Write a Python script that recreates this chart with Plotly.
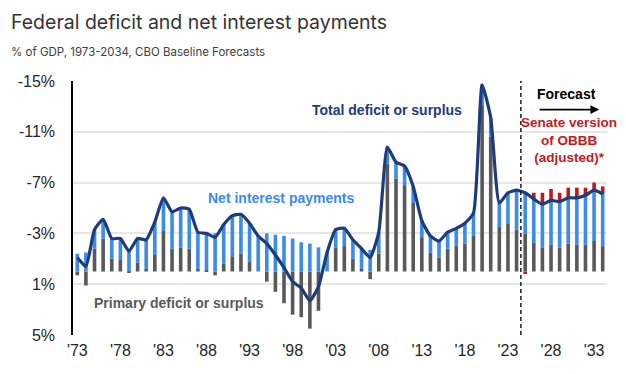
import plotly.graph_objects as go

years = list(range(1973, 2035))

# Total deficit (-) or surplus (+), % of GDP
total_balance = [-1.1, -0.4, -3.3, -4.1, -2.6, -2.6, -1.6, -2.6, -2.5, -3.9,
                 -5.8, -4.7, -5.0, -4.9, -3.1, -3.0, -2.7, -3.7, -4.4, -4.5,
                 -3.8, -2.8, -2.2, -1.3, -0.3, 0.8, 1.3, 2.3, 1.2, -1.5,
                 -3.3, -3.4, -2.5, -1.8, -1.1, -3.1, -9.8, -8.6, -8.3, -6.7,
                 -4.0, -2.8, -2.4, -3.1, -3.4, -3.8, -4.6, -14.7, -12.1, -5.4,
                 -6.2, -6.4, -6.2, -5.7, -5.3, -5.6, -5.5, -5.8, -5.8, -6.0,
                 -6.4, -6.1]

# Primary deficit (-) or surplus (+), % of GDP
primary_balance = [0.3, 1.1, -1.8, -2.6, -1.0, -0.9, 0.1, -0.7, -0.2, -1.3,
                   -3.2, -1.8, -1.9, -1.8, -0.2, -0.1, 0.3, -0.6, -1.2, -1.4,
                   -0.8, 0.0, 0.8, 1.6, 2.5, 3.4, 3.6, 4.5, 3.1, 0.0,
                   -1.9, -2.0, -1.0, -0.2, 0.6, -1.4, -8.5, -7.3, -6.8, -5.4,
                   -2.7, -1.5, -1.1, -1.8, -2.0, -2.2, -2.8, -13.1, -10.6, -3.5,
                   -3.8, -3.3, -3.0, -2.3, -1.9, -2.1, -1.9, -2.2, -2.1, -2.1,
                   -2.4, -2.0]

# Net interest payments (shown as a deficit contribution), % of GDP
net_interest = [-1.4, -1.5, -1.5, -1.5, -1.6, -1.7, -1.7, -1.9, -2.3, -2.6,
                -2.6, -2.9, -3.1, -3.1, -2.9, -2.9, -3.0, -3.1, -3.2, -3.1,
                -3.0, -2.8, -3.0, -2.9, -2.8, -2.6, -2.3, -2.2, -1.9, -1.5,
                -1.4, -1.4, -1.5, -1.6, -1.7, -1.7, -1.3, -1.3, -1.5, -1.3,
                -1.3, -1.3, -1.3, -1.3, -1.4, -1.6, -1.8, -1.6, -1.5, -1.9,
                -2.4, -3.1, -3.2, -3.4, -3.4, -3.5, -3.6, -3.6, -3.7, -3.9,
                -4.0, -4.1]

# Senate version of OBBB (adjusted) additional deficit, forecast years
obbb_years = list(range(2025, 2035))
obbb_extra = [0.2, -0.5, -0.9, -0.9, -0.7, -0.8, -0.8, -0.6, -0.6, -0.6]

y_tickvals = [-15, -11, -7, -3, 1, 5]
y_ticktext = ["-15%", "-11%", "-7%", "-3%", "1%", "5%"]
x_tickvals = list(range(1973, 2034, 5))
x_ticktext = ["'" + str(y)[2:] for y in x_tickvals]
x_minor_ticks = [y + 0.5 for y in range(1977, 2034, 5)]

GRAY = "#595959"
BLUE = "#3a8ce6"
NAVY = "#1c3c7c"
RED = "#bf1b1f"

fig = go.Figure()
fig.add_trace(go.Bar(x=years, y=primary_balance, marker_color=GRAY,
                     marker_line_width=0, name="Primary deficit or surplus"))
fig.add_trace(go.Bar(x=years, y=net_interest, marker_color=BLUE,
                     marker_line_width=0, name="Net interest payments"))
fig.add_trace(go.Bar(x=obbb_years, y=obbb_extra, marker_color=RED,
                     marker_line_width=0, name="Senate version of OBBB"))
fig.add_trace(go.Scatter(x=years, y=total_balance, mode="lines",
                         line=dict(color=NAVY, width=3.2, shape="spline", smoothing=0.5),
                         name="Total deficit or surplus"))

fig.add_vline(x=2024.5, line=dict(color="#1a1a1a", width=1.5, dash="4px,3px"))

axis_font = dict(family="Liberation Sans, Arial, sans-serif", size=16, color="#262626")

# page body has an 8px margin: the figure sits at (8, 8) in the window
fig.update_layout(
    width=618, height=366,
    margin=dict(l=65, r=19, t=73, b=39),
    paper_bgcolor="white", plot_bgcolor="white",
    barmode="relative", bargap=0.58,
    showlegend=False,
    xaxis=dict(range=[1972.5, 2034.5], tickmode="array", tickvals=x_tickvals,
               ticktext=x_ticktext, ticks="", showgrid=False, zeroline=False,
               showline=False, tickfont=axis_font, ticklabelstandoff=4,
               automargin=False),
    xaxis2=dict(range=[1972.5, 2034.5], overlaying="x", anchor="free", position=0.25,
                side="bottom", showline=True, linecolor="black", linewidth=2,
                tickmode="array", tickvals=x_minor_ticks, ticks="outside",
                ticklen=5, tickwidth=1.5, tickcolor="black",
                showticklabels=False, showgrid=False, zeroline=False,
                automargin=False),
    yaxis=dict(range=[5, -15], tickmode="array", tickvals=y_tickvals,
               ticktext=y_ticktext, ticks="", showgrid=True, gridcolor="#e6e6e6",
               gridwidth=1.5, zeroline=False, showline=True, linecolor="black",
               linewidth=1.5, tickfont=axis_font, ticklabelstandoff=13,
               automargin=False),
)

# helpers: window pixel -> paper fraction (plot area spans x 73..607, y 81..335)
def px_x(px):
    return (px - 73) / 534

def px_y(py):
    return (335 - py) / 254

fig.add_annotation(xref="paper", yref="paper", x=px_x(9.5), y=px_y(9),
                   xanchor="left", yanchor="top", showarrow=False, borderpad=0,
                   text="Federal deficit and net interest payments",
                   font=dict(family="Inter, sans-serif", size=19.5, color="#333333"))
fig.add_annotation(xref="paper", yref="paper", x=px_x(9.5), y=px_y(52),
                   xanchor="left", yanchor="middle", showarrow=False, borderpad=0,
                   text="% of GDP, 1973-2034, CBO Baseline Forecasts",
                   font=dict(family="Inter, sans-serif", size=11.5, color="#404040"))

lab = "Liberation Sans, Arial, sans-serif"
fig.add_annotation(x=2009.0, y=-12.7, text="<b>Total deficit or surplus</b>", showarrow=False,
                   font=dict(family=lab, size=14, color=NAVY))
fig.add_annotation(x=1996.6, y=-5.75, text="<b>Net interest payments</b>", showarrow=False,
                   font=dict(family=lab, size=14, color=BLUE))
fig.add_annotation(x=1984.8, y=2.45, text="<b>Primary deficit or surplus</b>", showarrow=False,
                   font=dict(family=lab, size=14, color=GRAY))
fig.add_annotation(x=2029.85, y=-14.0, text="<b>Forecast</b>", showarrow=False,
                   font=dict(family=lab, size=14, color="black"))
fig.add_annotation(x=2033.6, y=-12.75, ax=2026.5, ay=-12.75, axref="x", ayref="y",
                   text="", showarrow=True, arrowhead=2, arrowsize=1.1, arrowwidth=1.6,
                   arrowcolor="black")
fig.add_annotation(x=2030.1, y=-10.35, text="<b>Senate version<br>of OBBB<br>(adjusted)*</b>",
                   showarrow=False, align="center", borderpad=0,
                   font=dict(family=lab, size=13.5, color=RED))

fig.write_html("out.html")
